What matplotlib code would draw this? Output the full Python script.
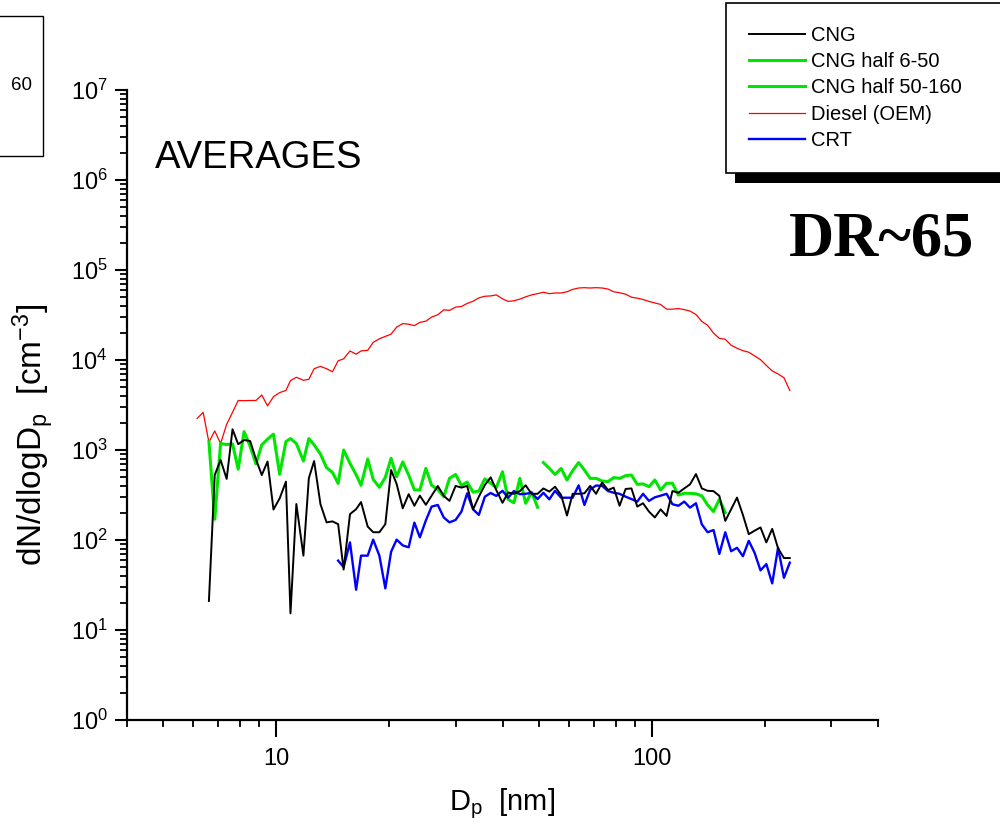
import matplotlib
matplotlib.use('Agg')
import matplotlib.pyplot as plt
from matplotlib.lines import Line2D
from matplotlib.patches import Rectangle
from matplotlib.ticker import LogLocator, NullFormatter, FixedLocator, FixedFormatter

plt.rcParams['font.family'] = ['Liberation Sans', 'DejaVu Sans']
plt.rcParams['mathtext.fontset'] = 'custom'
plt.rcParams['mathtext.rm'] = 'Liberation Sans'
plt.rcParams['mathtext.it'] = 'Liberation Sans:italic'
plt.rcParams['mathtext.default'] = 'regular'

# SMPS channel midpoints (nm), 64 channels/decade
dp = [6.15, 6.38, 6.61, 6.85, 7.10, 7.37, 7.64, 7.91, 8.20, 8.51,
      8.82, 9.14, 9.47, 9.82, 10.2, 10.6, 10.9, 11.3, 11.8, 12.2,
      12.6, 13.1, 13.6, 14.1, 14.6, 15.1, 15.7, 16.3, 16.8, 17.5,
      18.1, 18.8, 19.5, 20.2, 20.9, 21.7, 22.5, 23.3, 24.1, 25.0,
      25.9, 26.9, 27.9, 28.9, 30.0, 31.1, 32.2, 33.4, 34.6, 35.9,
      37.2, 38.5, 40.0, 41.4, 42.9, 44.5, 46.1, 47.8, 49.6, 51.4,
      53.3, 55.2, 57.3, 59.4, 61.5, 63.8, 66.1, 68.5, 71.0, 73.7,
      76.4, 79.1, 82.0, 85.1, 88.2, 91.4, 94.7, 98.2, 101.8, 105.5,
      109.4, 113.4, 117.6, 121.9, 126.3, 131.0, 135.8, 140.7, 145.9, 151.2,
      156.8, 162.5, 168.5, 174.7, 181.1, 187.7, 194.6, 201.7, 209.1, 216.7,
      224.7, 232.9]

# Diesel (OEM): all channels
diesel = [2240, 2620, 1220, 1630, 1180, 1930, 2620, 3550, 3530, 3550,
          3550, 4090, 3090, 3910, 4340, 4590, 5900, 6430, 5950, 6100,
          8000, 8500, 8000, 7400, 9800, 10300, 12600, 11600, 12600, 12800,
          15700, 17200, 18300, 19400, 23200, 25400, 25000, 24100, 26200, 27000,
          30000, 31800, 36100, 35600, 38700, 39300, 42500, 45000, 49000, 51100,
          51500, 52900, 47800, 44800, 45500, 47500, 50300, 52900, 54600, 56600,
          54600, 55500, 55500, 57300, 60900, 63100, 63600, 63100, 63600, 63100,
          61400, 57300, 55900, 53900, 49900, 48600, 47000, 44700, 43100, 41400,
          36700, 36700, 37300, 36300, 35000, 32000, 26800, 24300, 19900, 17400,
          17000, 14600, 13500, 12700, 12200, 11100, 10100, 8700, 7560, 7000,
          6350, 4580]

# CNG: channels 2..101
cng = [21, 527, 776, 477, 1700, 1160, 1290, 1260, 790, 527,
       745, 218, 290, 445, 15.3, 251, 67, 487, 754, 250,
       157, 161, 150, 47, 194, 220, 264, 141, 122, 122,
       150, 599, 419, 225, 323, 240, 311, 246, 311, 398,
       309, 272, 399, 382, 399, 219, 303, 408, 497, 359,
       259, 337, 326, 350, 405, 326, 326, 374, 345, 391,
       316, 187, 326, 326, 330, 399, 326, 435, 359, 382,
       240, 369, 374, 235, 256, 207, 178, 219, 185, 350,
       335, 374, 415, 540, 374, 352, 349, 309, 163, 219,
       296, 190, 116, 127, 138, 94, 133, 81, 63, 63]

# CNG half 6-50: channels 2..58
cng_half_small = [1240, 170, 1180, 1150, 1170, 612, 1600, 1100, 700, 1140,
                  1320, 1500, 536, 1240, 1340, 1180, 755, 1340, 1140, 900,
                  635, 565, 425, 1000, 710, 532, 405, 794, 472, 385,
                  497, 808, 505, 737, 527, 361, 359, 625, 405, 364,
                  303, 484, 535, 403, 440, 340, 350, 478, 427, 382,
                  573, 283, 259, 484, 256, 340, 231]

# CNG half 50-160: channels 59..90
cng_half_large = [725, 625, 535, 624, 464, 588, 725, 599, 484, 484,
                  452, 445, 494, 484, 518, 527, 415, 420, 391, 464,
                  359, 427, 427, 316, 330, 330, 326, 309, 245, 207,
                  283, 202]

# CRT: channels 24..101
crt = [59, 50, 94, 28, 67, 67, 101, 67, 29, 74,
       101, 87, 83, 156, 107, 165, 235, 245, 178, 157,
       167, 207, 330, 219, 190, 303, 333, 309, 352, 295,
       350, 323, 326, 335, 285, 335, 283, 352, 295, 295,
       295, 405, 245, 364, 403, 399, 350, 335, 326, 303,
       285, 267, 326, 272, 298, 311, 326, 250, 240, 267,
       229, 256, 149, 122, 129, 70, 122, 75, 82, 66,
       98, 72, 46, 54, 33, 82, 38, 56]

labels = ['CNG', 'CNG half 6-50', 'CNG half 50-160', 'Diesel (OEM)', 'CRT']
colors = ['black', '#00e600', '#00e600', '#ff0000', '#0000ff']
widths = [1.4, 2.2, 2.2, 0.9, 1.7]

W, H = 1000, 822
fig = plt.figure(figsize=(W / 100, H / 100), dpi=100)
ax = fig.add_axes([127 / W, 1 - 720 / H, (878 - 127) / W, (720 - 90) / H])

ax.plot(dp, diesel, color=colors[3], lw=widths[3], zorder=2)
ax.plot(dp[2:], cng, color=colors[0], lw=widths[0], zorder=3)
ax.plot(dp[2:59], cng_half_small, color=colors[1], lw=widths[1], zorder=2)
ax.plot(dp[59:91], cng_half_large, color=colors[2], lw=widths[2], zorder=2)
ax.plot(dp[24:], crt, color=colors[4], lw=widths[4], zorder=2)

ax.set_xscale('log')
ax.set_yscale('log')
ax.set_xlim(4, 400)
ax.set_ylim(1, 1e7)

for s in ['top', 'right']:
    ax.spines[s].set_visible(False)
for s in ['left', 'bottom']:
    ax.spines[s].set_linewidth(1.6)

ax.xaxis.set_major_locator(FixedLocator([10, 100]))
ax.xaxis.set_major_formatter(FixedFormatter(['10', '100']))
ax.xaxis.set_minor_locator(LogLocator(base=10, subs=range(2, 10), numticks=20))
ax.xaxis.set_minor_formatter(NullFormatter())
ax.yaxis.set_major_locator(LogLocator(base=10, numticks=20))
ax.yaxis.set_minor_locator(LogLocator(base=10, subs=range(2, 10), numticks=20))
ax.yaxis.set_minor_formatter(NullFormatter())

ax.tick_params(which='major', direction='out', length=9, width=1.5, labelsize=17, pad=5)
ax.tick_params(which='minor', direction='out', length=5, width=1.3)
ax.tick_params(axis='x', which='major', length=12, pad=8)

ax.set_xlabel('D$_p$  [nm]', fontsize=21)
ax.xaxis.set_label_coords(0.5, -0.106)
ax.set_ylabel('dN/dlogD$_p$  [cm$^{-3}$]', fontsize=24)
ax.yaxis.set_label_coords(-0.094, 0.452)

fig.text(155 / W, 1 - 158 / H, 'AVERAGES', fontsize=27.5, va='center', ha='left')
fig.text(882 / W, 1 - 240 / H, 'DR~65', fontsize=45, fontweight='bold',
         family=['Liberation Serif', 'DejaVu Serif'], va='center', ha='center')

# partial box at top-left
fig.patches.append(Rectangle((-60 / W, 1 - 156 / H), 103 / W, 140 / H,
                             transform=fig.transFigure, fill=False,
                             edgecolor='black', lw=1.0, zorder=4))
fig.text(22 / W, 1 - 86 / H, '60', fontsize=13.5, va='center', ha='center')

# legend with drop shadow
fig.patches.append(Rectangle((735 / W, 1 - 183 / H), 300 / W, 170 / H,
                             transform=fig.transFigure, facecolor='black',
                             edgecolor='none', zorder=4))
handles = [Line2D([], [], color=c, lw=w) for c, w in zip(colors, widths)]
leg = fig.legend(handles, labels, loc='upper left',
                 bbox_to_anchor=(726 / W, 0, 300 / W, 1 - 3 / H), mode='expand',
                 fontsize=14.5, frameon=True, fancybox=False, framealpha=1,
                 edgecolor='black', borderpad=1.12, labelspacing=0.37,
                 handlelength=2.8, handletextpad=0.3, borderaxespad=0)
leg.get_frame().set_linewidth(1.2)
leg.set_zorder(5)

fig.savefig('out.png', dpi=100)
